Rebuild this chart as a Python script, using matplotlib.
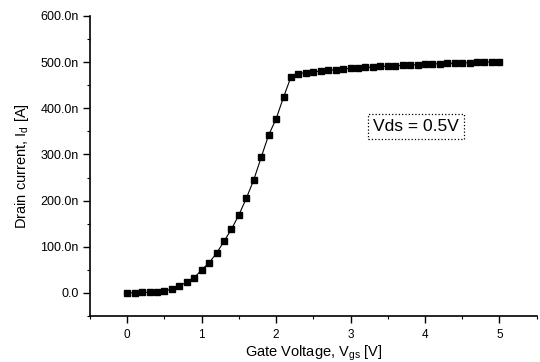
import numpy as np
import matplotlib
matplotlib.use('Agg')
import matplotlib.pyplot as plt
from matplotlib.ticker import MultipleLocator, FuncFormatter

plt.rcParams['font.family'] = ['Liberation Sans', 'DejaVu Sans']
plt.rcParams['mathtext.fontset'] = 'custom'
plt.rcParams['mathtext.rm'] = 'Liberation Sans'

# Gate voltage sweep (V) and drain current (nA)
vgs = np.round(np.arange(0, 5.01, 0.1), 1)
id_na = [0, 0.5, 1, 1.5, 2.5, 4, 8.5, 14.5, 24, 33,
         50, 65.5, 86, 112, 138, 169, 205, 245, 294, 342,
         377, 424, 468, 475, 477, 479, 480.5, 482, 483.5, 485,
         486.5, 487.5, 488.5, 489.5, 490.5, 491, 492, 493, 493.5, 494.5,
         495, 496, 496.5, 497, 497.5, 498, 499, 499.5, 500, 500.5,
         501]

label_text = 'Vds = 0.5V'

fig = plt.figure(figsize=(5.4, 3.62), dpi=100)
ax = fig.add_axes([0.1667, 0.127, 0.827, 0.829])

ax.plot(vgs, np.array(id_na) * 1e-9, color='black', lw=0.8,
        marker='s', markersize=4.6, markerfacecolor='black', markeredgecolor='black')

ax.set_xlim(-0.5, 5.5)
ax.set_ylim(-50e-9, 600e-9)

ax.xaxis.set_major_locator(MultipleLocator(1))
ax.xaxis.set_minor_locator(MultipleLocator(0.5))
ax.yaxis.set_major_locator(MultipleLocator(100e-9))
ax.yaxis.set_minor_locator(MultipleLocator(50e-9))


def nano(v, pos):
    n = v * 1e9
    if abs(n) < 1e-6:
        return '0.0'
    return f'{n:.1f}n'


ax.yaxis.set_major_formatter(FuncFormatter(nano))

for s in ['top', 'right']:
    ax.spines[s].set_visible(False)
for s in ['left', 'bottom']:
    ax.spines[s].set_linewidth(1.2)

ax.tick_params(which='major', direction='out', length=5, width=1, pad=3)
ax.tick_params(which='minor', direction='out', length=2.5, width=0.8)
ax.tick_params(axis='y', labelsize=9)
ax.tick_params(axis='x', labelsize=8.5, pad=4)

ax.set_xlabel(r'Gate Voltage, V$_{\mathrm{gs}}$ [V]', fontsize=10.5, labelpad=2)
ax.set_ylabel(r'Drain current, I$_{\mathrm{d}}$ [A]', fontsize=10.5, labelpad=7)

ax.text(3.88, 360e-9, label_text, fontsize=12.5, ha='center', va='center',
        bbox=dict(boxstyle='square,pad=0.3', facecolor='white',
                  edgecolor='black', linestyle=':', linewidth=0.9))

fig.savefig('out.png', dpi=100)
